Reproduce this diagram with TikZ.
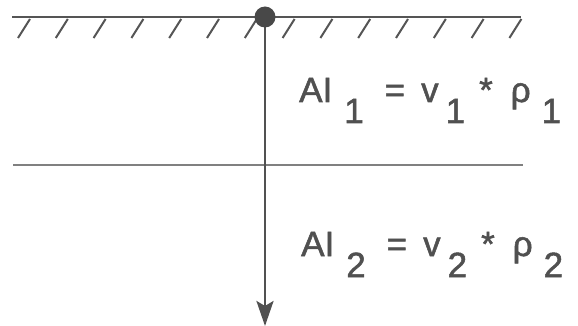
\documentclass[tikz,border=0pt]{standalone}
\usepackage{fontspec}
\setmainfont{Liberation Sans}
\newfontfamily\formfont[FakeBold=1.5]{Liberation Sans}
\usetikzlibrary{arrows.meta}
\definecolor{inkline}{HTML}{555555}
\definecolor{inktext}{HTML}{505050}
\newcommand\sbx[1]{\raisebox{-21pt}{#1}}
\tikzset{
  ground/.style={line width=2.6pt, draw=inkline},
  hatch/.style={line width=2pt, draw=inkline},
  layer/.style={line width=2.2pt, draw=inkline!75},
  ray/.style={line width=2.8pt, draw=inkline!95!black, -{Stealth[length=25pt,width=17pt,inset=5pt]}},
  formula/.style={anchor=base west, inner sep=0pt, text=inktext, font=\formfont\fontsize{35}{40}\selectfont}
}
\begin{document}
\begin{tikzpicture}[x=1pt,y=-1pt]
\useasboundingbox (0,0) rectangle (578,326);
% ground surface
\coordinate (gl) at (12,17);
\coordinate (gr) at (521,17);
\draw[ground] (gl) -- (gr);
\foreach \k in {0,...,13}{
  \draw[hatch] ({18+37.8*\k},38) -- ({30+37.8*\k},19);
}
% layer boundary
\coordinate (ll) at (13,165);
\coordinate (lr) at (523,165);
\draw[layer] (ll) -- (lr);
% source and ray
\coordinate (src) at (265,17);
\coordinate (end) at (265,326);
\draw[ray] (src) -- (end);
\fill[inkline!85!black] (src) circle (10.5);
% formulas
\node[formula] (f1) at (299,102) {AI\hspace{12pt}\sbx{1}\hspace{21pt}=\hspace{16pt}v\hspace{7pt}\sbx{1}\hspace{14pt}*\hspace{18pt}ρ\hspace{11pt}\sbx{1}};
\node[formula] (f2) at (301,256) {AI\hspace{12pt}\sbx{2}\hspace{21pt}=\hspace{16pt}v\hspace{7pt}\sbx{2}\hspace{14pt}*\hspace{18pt}ρ\hspace{11pt}\sbx{2}};
\end{tikzpicture}
\end{document}
